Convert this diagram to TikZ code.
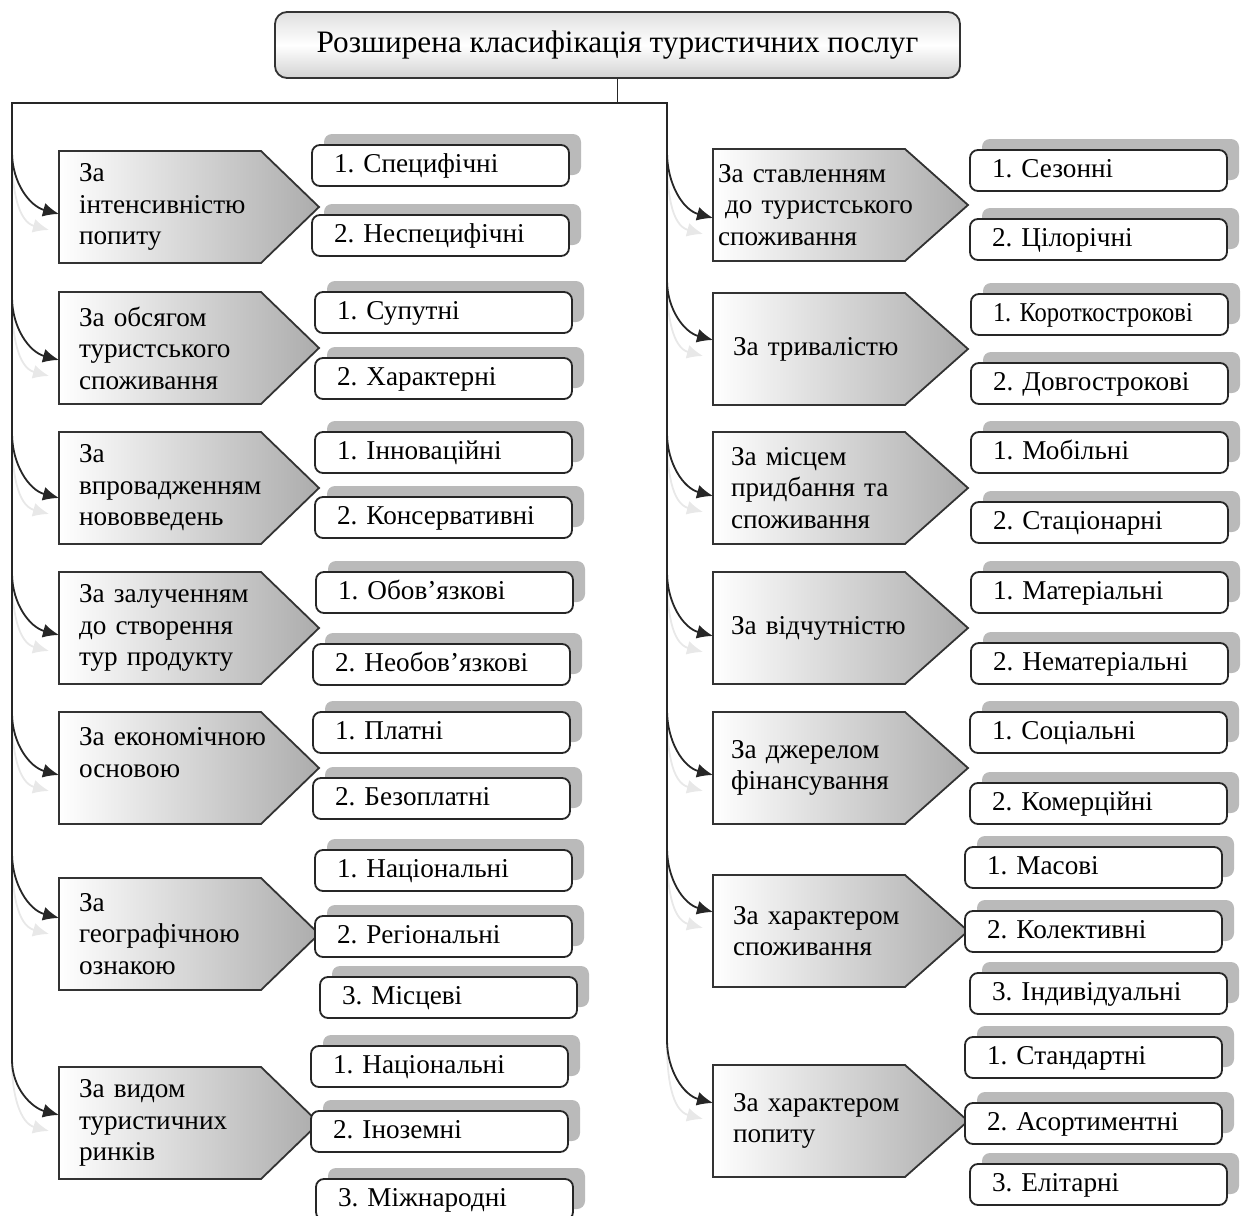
\documentclass[tikz,border=0pt]{standalone}
\usepackage{graphicx}
\usepackage{fontspec}
\setmainfont{Liberation Serif}
\usetikzlibrary{arrows.meta, shadows, backgrounds}
\hyphenpenalty=10000
\frenchspacing

\begin{document}
\begin{tikzpicture}[x=0.5pt,y=-0.5pt,
    font=\fontsize{13.6}{15.8}\selectfont,
    heading/.style={draw=black!80, line width=0.9pt, rounded corners=6pt,
      top color=gray!25, bottom color=gray!35, middle color=white,
      minimum width=342.5pt, minimum height=33pt, font=\fontsize{15.6}{18}\selectfont},
    catl/.style={anchor=north west, outer sep=0pt, inner xsep=10pt, text width=81pt,
      minimum height=56pt, align=left},
    catr/.style={catl, inner xsep=9pt, text width=78pt},
    catfill/.style={draw=black!80, line width=0.9pt, left color=white, right color=gray!65},
    item/.style={anchor=north west, draw=black!85, line width=0.9pt, rounded corners=4pt,
      fill=white, outer sep=0pt, inner xsep=11pt, text width=106.5pt,
      text height=10pt, text depth=3.5pt, minimum height=20.5pt, align=left,
      drop shadow={shadow xshift=6pt, shadow yshift=5.5pt, fill=black!27, opacity=1}},
    trunk/.style={draw=black!85, line width=0.9pt},
    feed/.style={trunk, -{Latex[length=8pt,width=7pt]}},
    feedshade/.style={draw=gray!18, line width=0.9pt, -{Latex[length=8pt,width=7pt]}}
  ]
  \useasboundingbox (0,0) rectangle (1244,1216);

  \node[heading] (title) at (617.5,45) {Розширена класифікація туристичних послуг};

  % left column
  \node[catl] (l1) at (59,151) {За\\інтенсивністю\\попиту};
  \node[catl] (l2) at (59,292) {За~обсягом\\туристського\\споживання};
  \node[catl] (l3) at (59,432) {За\\впровадженням\\нововведень};
  \node[catl] (l4) at (59,572) {За~залученням\\до~створення\\тур~продукту};
  \node[catl] (l5) at (59,712) {За~економічною\\основою\\~};
  \node[catl] (l6) at (59,878) {За\\географічною\\ознакою};
  \node[catl] (l7) at (59,1067) {За~видом\\туристичних\\ринків};

  \node[item] (l1a) at (312,145) {1. Специфічні};
  \node[item] (l1b) at (312,215) {2. Неспецифічні};
  \node[item] (l2a) at (315,292) {1. Супутні};
  \node[item] (l2b) at (315,358) {2. Характерні};
  \node[item] (l3a) at (315,432) {1. Інноваційні};
  \node[item] (l3b) at (315,497) {2. Консервативні};
  \node[item] (l4a) at (316,572) {1. Обов’язкові};
  \node[item] (l4b) at (313,644) {2. Необов’язкові};
  \node[item] (l5a) at (313,712) {1. Платні};
  \node[item] (l5b) at (313,778) {2. Безоплатні};
  \node[item] (l6a) at (315,850) {1. Національні};
  \node[item] (l6b) at (315,916) {2. Регіональні};
  \node[item] (l6c) at (320,977) {3. Місцеві};
  \node[item] (l7a) at (311,1046) {1. Національні};
  \node[item] (l7b) at (311,1111) {2. Іноземні};
  \node[item] (l7c) at (316,1179) {3. Міжнародні};

  % right column
  \node[catr, inner xsep=2.5pt, text width=91pt] (r1) at (713,149)
    {За~ставленням\\\hspace*{3.5pt}до~туристського\\споживання};
  \node[catr] (r2) at (713,293) {\hspace*{1pt}За~тривалістю};
  \node[catr] (r3) at (713,432) {За~місцем\\придбання~та\\споживання};
  \node[catr] (r4) at (713,572) {За~відчутністю};
  \node[catr] (r5) at (713,712) {За~джерелом\\фінансування};
  \node[catr] (r6) at (713,875) {\hspace*{1pt}За~характером\\\hspace*{1pt}споживання};
  \node[catr] (r7) at (713,1065) {\hspace*{1pt}За~характером\\\hspace*{1pt}попиту};

  \node[item] (r1a) at (970,150) {1. Сезонні};
  \node[item] (r1b) at (970,219) {2. Цілорічні};
  \node[item] (r2a) at (971,294) {\scalebox{0.9}[1]{1. Короткострокові}};
  \node[item] (r2b) at (971,363) {2. Довгострокові};
  \node[item] (r3a) at (971,432) {1. Мобільні};
  \node[item] (r3b) at (971,502) {2. Стаціонарні};
  \node[item] (r4a) at (971,572) {1. Матеріальні};
  \node[item] (r4b) at (971,643) {2. Нематеріальні};
  \node[item] (r5a) at (970,712) {1. Соціальні};
  \node[item] (r5b) at (970,783) {2. Комерційні};
  \node[item] (r6a) at (965,847) {1. Масові};
  \node[item] (r6b) at (965,911) {2. Колективні};
  \node[item] (r6c) at (970,973) {3. Індивідуальні};
  \node[item] (r7a) at (965,1037) {1. Стандартні};
  \node[item] (r7b) at (965,1103) {2. Асортиментні};
  \node[item] (r7c) at (970,1164) {3. Елітарні};

  % arrow-shaped category boxes
  \begin{scope}[on background layer]
    \foreach \n/\t in {l1/29pt,l2/29pt,l3/29pt,l4/29pt,l5/29pt,l6/29pt,l7/29pt,
        r1/31.5pt,r2/31.5pt,r3/31.5pt,r4/31.5pt,r5/31.5pt,r6/31.5pt,r7/31.5pt}
      \shadedraw[catfill] (\n.north west) -- (\n.north east) -- ([xshift=\t]\n.east)
        -- (\n.south east) -- (\n.south west) -- cycle;
  \end{scope}

  % curved feeds from the trunk lines
  \foreach \n/\s/\e in {l1/152/214,l2/297/360,l3/433/498,l4/573/635,l5/713/775,l6/853/918,l7/1060/1115} {
    \coordinate (s\n) at (12,\s);
    \coordinate (e\n) at (\n.west |- 0,\e);
    \draw[feedshade] ([yshift=-2pt]s\n) to[out=-90,in=165] ([xshift=-5pt,yshift=-8pt]e\n);
    \draw[feed] (s\n) to[out=-90,in=165] (e\n);
  }
  \foreach \n/\s/\e in {r1/152/218,r2/280/340,r3/433/496,r4/572/636,r5/710/775,r6/848/912,r7/1040/1103} {
    \coordinate (s\n) at (667,\s);
    \coordinate (e\n) at (\n.west |- 0,\e);
    \draw[feedshade] ([yshift=-2pt]s\n) to[out=-90,in=165] ([xshift=-5pt,yshift=-8pt]e\n);
    \draw[feed] (s\n) to[out=-90,in=165] (e\n);
  }

  \coordinate (tl) at (12,103);
  \coordinate (tr) at (667,103);
  \draw[trunk] (title.south) -- (title.south |- tl);
  \draw[trunk] (sl7) -- (tl) -- (tr) -- (sr7);
\end{tikzpicture}
\end{document}
